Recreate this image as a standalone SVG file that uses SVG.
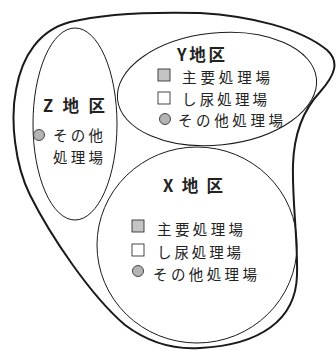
<svg xmlns="http://www.w3.org/2000/svg" width="336" height="350" viewBox="0 0 336 350">
<style>
.bd{fill:none;stroke:#1a1a1a;stroke-width:1}
.outer{fill:none;stroke:#1a1a1a;stroke-width:2}
.t{font-family:"Noto Sans CJK JP","Noto Sans",sans-serif;fill:#222;font-size:14.5px}
.h{font-family:"Noto Sans CJK JP","Noto Sans",sans-serif;fill:#222;font-size:16.5px;font-weight:bold}
.sq1{fill:#c4c4c4;stroke:#333;stroke-width:0.9}
.sq2{fill:#fff;stroke:#333;stroke-width:0.9}
.ci{fill:#b4b4b4;stroke:#333;stroke-width:0.9}
</style>
<rect width="336" height="350" fill="#fff"/>
<g id="region">
<path class="outer" d="M 200,13 C 250,16 300,28 327,50 C 340,62 335,75 320,92 C 305,108 294,130 293,165 C 292,200 298,240 297,275 C 296,320 260,345 200,348 C 170,350 145,340 125,325 C 90,295 50,235 30,195 C 15,165 10,120 16,90 C 22,55 40,30 70,22 C 110,12 160,12 200,13 Z"/>
</g>
<g id="zone-z">
<ellipse class="bd" cx="75" cy="124" rx="42" ry="96"/>
<text class="h" x="43" y="112" textLength="62" lengthAdjust="spacing">Z地区</text>
<circle class="ci" cx="39" cy="135" r="5.5"/>
<text class="t" x="53" y="141" textLength="50" lengthAdjust="spacing">その他</text>
<text class="t" x="53" y="163" textLength="50" lengthAdjust="spacing">処理場</text>
</g>
<g id="zone-y">
<ellipse class="bd" cx="217" cy="89" rx="100" ry="56" transform="rotate(-6 217 89)"/>
<text class="h" x="177" y="61" textLength="48" lengthAdjust="spacing">Y地区</text>
<rect class="sq1" x="158" y="69" width="12" height="12"/>
<text class="t" x="182" y="83" textLength="88" lengthAdjust="spacing">主要処理場</text>
<rect class="sq2" x="158" y="92" width="12" height="12"/>
<text class="t" x="182" y="105" textLength="85" lengthAdjust="spacing">し尿処理場</text>
<circle class="ci" cx="165" cy="119" r="5.5"/>
<text class="t" x="178" y="126" textLength="105" lengthAdjust="spacing">その他処理場</text>
</g>
<g id="zone-x">
<ellipse class="bd" cx="197" cy="245" rx="100" ry="98"/>
<text class="h" x="163" y="192" textLength="60" lengthAdjust="spacing">X地区</text>
<rect class="sq1" x="132" y="220" width="12" height="12"/>
<text class="t" x="157" y="235" textLength="86" lengthAdjust="spacing">主要処理場</text>
<rect class="sq2" x="132" y="244" width="12" height="12"/>
<text class="t" x="157" y="258" textLength="84" lengthAdjust="spacing">し尿処理場</text>
<circle class="ci" cx="138" cy="271" r="5.5"/>
<text class="t" x="153" y="280" textLength="104" lengthAdjust="spacing">その他処理場</text>
</g>
</svg>
